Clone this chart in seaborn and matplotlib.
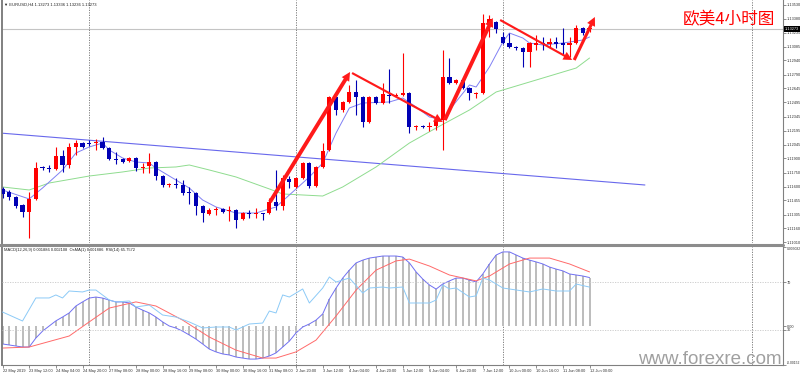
import matplotlib
matplotlib.use("Agg")
import matplotlib.pyplot as plt
import matplotlib.transforms as mtransforms
from matplotlib.lines import Line2D
import numpy as np
import pandas as pd
import seaborn as sns

# EURUSD H4 candles (22 May 20:00 .. 12 Jun 00:00)
opens = [1.11577, 1.11545, 1.11492, 1.11407, 1.11333, 1.11471, 1.11810, 1.11799, 1.11789, 1.11926,
         1.11831, 1.12022, 1.12064, 1.12064, 1.12064, 1.12075, 1.12011, 1.11895, 1.11895, 1.11873,
         1.11905, 1.11799, 1.11820, 1.11863, 1.11714, 1.11619, 1.11630, 1.11619, 1.11545, 1.11534,
         1.11396, 1.11312, 1.11354, 1.11365, 1.11343, 1.11354, 1.11259, 1.11322, 1.11312, 1.11322,
         1.11322, 1.11439, 1.11396, 1.11683, 1.11598, 1.11693, 1.11852, 1.11608, 1.11810, 1.11990,
         1.12552, 1.12414, 1.12499, 1.12605, 1.12552, 1.12287, 1.12552, 1.12488, 1.12573, 1.12562,
         1.12573, 1.12594, 1.12234, 1.12244, 1.12234, 1.12244, 1.12308, 1.12764, 1.12700, 1.12732,
         1.12647, 1.12584, 1.12594, 1.13336, 1.13347, 1.13188, 1.13124, 1.13082, 1.13071, 1.13029,
         1.13103, 1.13124, 1.13114, 1.13135, 1.13124, 1.13103, 1.13124, 1.13283, 1.13273]
highs = [1.11598, 1.11566, 1.11502, 1.11418, 1.11545, 1.11863, 1.11820, 1.11831, 1.12022, 1.11990,
         1.12064, 1.12096, 1.12075, 1.12096, 1.12107, 1.12128, 1.12022, 1.11969, 1.11905, 1.11916,
         1.11916, 1.11852, 1.11958, 1.11873, 1.11725, 1.11640, 1.11693, 1.11672, 1.11598, 1.11545,
         1.11407, 1.11375, 1.11386, 1.11375, 1.11396, 1.11365, 1.11333, 1.11354, 1.11375, 1.11322,
         1.11481, 1.11778, 1.11725, 1.11714, 1.11704, 1.11863, 1.11863, 1.11820, 1.12064, 1.12562,
         1.12562, 1.12509, 1.12679, 1.12732, 1.12562, 1.12562, 1.12562, 1.12700, 1.12849, 1.12594,
         1.13018, 1.12605, 1.12255, 1.12255, 1.12287, 1.12308, 1.13050, 1.12965, 1.12743, 1.12743,
         1.12658, 1.12605, 1.13432, 1.13421, 1.13357, 1.13241, 1.13230, 1.13092, 1.13082, 1.13135,
         1.13209, 1.13188, 1.13177, 1.13188, 1.13283, 1.13188, 1.13315, 1.13294, 1.13336]
lows = [1.11481, 1.11460, 1.11375, 1.11280, 1.11057, 1.11460, 1.11778, 1.11757, 1.11778, 1.11757,
        1.11799, 1.11937, 1.12011, 1.12032, 1.11990, 1.12001, 1.11884, 1.11842, 1.11852, 1.11863,
        1.11767, 1.11746, 1.11746, 1.11672, 1.11598, 1.11598, 1.11587, 1.11513, 1.11418, 1.11301,
        1.11227, 1.11301, 1.11301, 1.11322, 1.11237, 1.11163, 1.11248, 1.11269, 1.11269, 1.11248,
        1.11312, 1.11354, 1.11354, 1.11587, 1.11587, 1.11683, 1.11587, 1.11598, 1.11799, 1.11979,
        1.12361, 1.12393, 1.12488, 1.12361, 1.12234, 1.12276, 1.12478, 1.12478, 1.12488, 1.12552,
        1.12562, 1.12170, 1.12202, 1.12223, 1.12191, 1.12202, 1.11990, 1.12690, 1.12690, 1.12637,
        1.12520, 1.12541, 1.12584, 1.13188, 1.13230, 1.13114, 1.13071, 1.13050, 1.12870, 1.12870,
        1.13050, 1.13050, 1.13071, 1.13071, 1.12997, 1.12976, 1.13114, 1.13209, 1.13236]
closes = [1.11524, 1.11492, 1.11396, 1.11333, 1.11471, 1.11799, 1.11799, 1.11789, 1.11926, 1.11831,
          1.12022, 1.12064, 1.12022, 1.12054, 1.12075, 1.12011, 1.11895, 1.11884, 1.11863, 1.11905,
          1.11799, 1.11810, 1.11863, 1.11714, 1.11619, 1.11630, 1.11619, 1.11534, 1.11534, 1.11396,
          1.11322, 1.11354, 1.11365, 1.11333, 1.11354, 1.11248, 1.11322, 1.11312, 1.11322, 1.11312,
          1.11439, 1.11396, 1.11693, 1.11651, 1.11693, 1.11852, 1.11608, 1.11810, 1.11979, 1.12552,
          1.12414, 1.12499, 1.12605, 1.12552, 1.12287, 1.12552, 1.12488, 1.12584, 1.12562, 1.12573,
          1.12594, 1.12234, 1.12244, 1.12234, 1.12244, 1.12297, 1.12764, 1.12700, 1.12732, 1.12647,
          1.12594, 1.12594, 1.13336, 1.13379, 1.13273, 1.13124, 1.13082, 1.13071, 1.13029, 1.13124,
          1.13124, 1.13114, 1.13135, 1.13114, 1.13103, 1.13124, 1.13283, 1.13230, 1.13273]

# fast MA (thin blue) and slow MA (green), read at some bars
fast_idx = [0, 4, 6, 9, 11, 13, 15, 16, 18, 20, 22, 23, 26, 28, 30, 32, 35, 38, 41, 43,
            46, 48, 50, 52, 54, 58, 60, 62, 64, 66, 67, 70, 71, 73, 75, 76, 78, 79, 81, 84, 87, 88]
fast_val = [1.11566, 1.11471, 1.11587, 1.11778, 1.11958, 1.12022, 1.12064, 1.11990, 1.11905, 1.11863,
            1.11852, 1.11799, 1.11672, 1.11587, 1.11460, 1.11386, 1.11322, 1.11322, 1.11386, 1.11513,
            1.11704, 1.11852, 1.12170, 1.12435, 1.12488, 1.12499, 1.12541, 1.12446, 1.12340, 1.12308,
            1.12414, 1.12679, 1.12658, 1.12870, 1.13135, 1.13230, 1.13177, 1.13124, 1.13103, 1.13124,
            1.13156, 1.13188]
slow_idx = [0, 4, 7, 13, 18, 22, 26, 28, 31, 35, 40, 42, 45, 48, 51, 56, 61, 65, 70, 74, 76, 81, 86, 88]
slow_val = [1.11598, 1.11566, 1.11640, 1.11714, 1.11757, 1.11799, 1.11810, 1.11831, 1.11778, 1.11704,
            1.11577, 1.11524, 1.11513, 1.11502, 1.11598, 1.11810, 1.12064, 1.12223, 1.12414, 1.12605,
            1.12647, 1.12753, 1.12859, 1.12965]

# blue trend line end points (bar index, price)
trend_x = [-0.4, 96.3]
trend_y = [1.12170, 1.11619]

# red hand-drawn arrows: (start bar, start price, end bar, end price, thickness)
arrows = [(40.1, 1.11439, 52.1, 1.12817, 0.40),
          (52.4, 1.12806, 66.0, 1.12287, 0.22),
          (66.3, 1.12308, 73.5, 1.13389, 0.40),
          (74.6, 1.13368, 85.4, 1.12944, 0.22),
          (85.7, 1.12944, 88.8, 1.13400, 0.32)]

# MACD(12,26,9) main line per bar, signal line, RSI(14)
macd = [-0.00070, -0.00074, -0.00078, -0.00082, -0.00082, -0.00047, -0.00020, 0.00000, 0.00020, 0.00035,
        0.00051, 0.00078, 0.00094, 0.00109, 0.00113, 0.00109, 0.00101, 0.00094, 0.00094, 0.00090,
        0.00074, 0.00062, 0.00051, 0.00035, 0.00016, 0.00000, -0.00008, -0.00020, -0.00035, -0.00051,
        -0.00070, -0.00090, -0.00101, -0.00109, -0.00113, -0.00121, -0.00125, -0.00129, -0.00129, -0.00125,
        -0.00117, -0.00105, -0.00082, -0.00059, -0.00027, -0.00004, 0.00008, 0.00023, 0.00047, 0.00105,
        0.00148, 0.00187, 0.00218, 0.00246, 0.00257, 0.00265, 0.00269, 0.00273, 0.00273, 0.00273,
        0.00269, 0.00246, 0.00211, 0.00183, 0.00160, 0.00144, 0.00164, 0.00176, 0.00187, 0.00187,
        0.00179, 0.00172, 0.00203, 0.00242, 0.00277, 0.00289, 0.00289, 0.00277, 0.00265, 0.00257,
        0.00250, 0.00242, 0.00230, 0.00222, 0.00215, 0.00203, 0.00199, 0.00195, 0.00189]
sig_idx = [0, 4, 10, 13, 16, 20, 23, 27, 31, 35, 39, 41, 44, 47, 50, 53, 56, 59, 61, 64,
           67, 71, 73, 76, 79, 82, 85, 88]
sig_val = [-0.00086, -0.00082, -0.00039, 0.00016, 0.00070, 0.00094, 0.00078, 0.00023, -0.00043, -0.00094,
           -0.00125, -0.00125, -0.00101, -0.00055, 0.00039, 0.00140, 0.00218, 0.00254, 0.00261, 0.00234,
           0.00199, 0.00176, 0.00195, 0.00242, 0.00265, 0.00265, 0.00242, 0.00211]
rsi_idx = [0, 3, 5, 7, 8, 9, 10, 12, 13, 14, 16, 17, 19, 20, 22, 24, 26, 28, 30, 32,
           34, 35, 37, 39, 40, 41, 42, 43, 44, 45, 46, 48, 49, 50, 52, 54, 55, 57, 58, 60,
           61, 64, 65, 66, 67, 68, 70, 71, 72, 73, 75, 79, 81, 83, 85, 86, 88]
rsi_val = [45.0, 37.5, 56.7, 56.7, 59.2, 56.7, 62.5, 61.7, 63.3, 63.3, 55.0, 53.3, 54.2, 49.2, 50.8,
           42.5, 40.8, 36.7, 31.7, 32.5, 32.5, 30.0, 35.0, 35.8, 45.8, 44.2, 59.2, 57.5, 60.8, 64.2,
           52.5, 65.0, 74.2, 70.0, 73.3, 60.8, 65.0, 65.8, 65.0, 65.8, 52.5, 52.5, 55.0, 67.5, 64.2,
           65.0, 57.5, 58.5, 73.3, 71.7, 65.0, 61.7, 64.2, 62.5, 62.5, 68.3, 65.76]

# axis labels
time_idx = list(range(0, 89, 4))
time_labels = ["22 May 2019", "23 May 12:00", "24 May 04:00", "24 May 20:00", "27 May 08:00",
               "28 May 00:00", "28 May 16:00", "29 May 08:00", "30 May 00:00", "30 May 16:00",
               "31 May 08:00", "2 Jun 20:00", "3 Jun 12:00", "4 Jun 04:00", "4 Jun 20:00",
               "5 Jun 12:00", "6 Jun 04:00", "6 Jun 20:00", "7 Jun 12:00", "10 Jun 00:00",
               "10 Jun 16:00", "11 Jun 08:00", "12 Jun 00:00"]
price_ticks = [1.13530, 1.13380, 1.13235, 1.13085, 1.12940, 1.12790, 1.12645, 1.12495, 1.12345,
               1.12195, 1.12045, 1.11900, 1.11750, 1.11600, 1.11455, 1.11305, 1.11160, 1.11010]
week_sep = [13, 44, 75, 112.4]

sns.set_theme(style="white")
plt.rcParams['font.family'] = ['Liberation Sans', 'DejaVu Sans']

W, H = 800, 376
fig = plt.figure(figsize=(8, 3.76), dpi=100)
fig.patch.set_facecolor("white")


def frac(x0, y0, x1, y1):
    return [x0 / W, 1 - y1 / H, (x1 - x0) / W, (y1 - y0) / H]


ax = fig.add_axes(frac(2, 0, 783, 243))
axi = fig.add_axes(frac(2, 247, 783, 365), sharex=ax)
ax.set_xlim(-0.075, 117.0)
ax.set_ylim(1.11004, 1.13580)

df = pd.DataFrame(dict(o=opens, h=highs, l=lows, c=closes))
df["i"] = np.arange(len(df))
col = np.where(df.c >= df.o, "#ff0000", "#0000b4")

# price panel
ax.axhline(closes[-1], color="#c4c4c4", lw=0.8, zorder=0)
for a in (ax, axi):
    for v in week_sep:
        a.axvline(v, color="#6e6e6e", lw=0.6, ls=(0, (1.5, 1.5)), zorder=0)

ax.plot(trend_x, trend_y, color="#6868ec", lw=0.8)
sns.lineplot(x=slow_idx, y=slow_val, ax=ax, color="#8fdc8f", lw=0.7)
sns.lineplot(x=fast_idx, y=fast_val, ax=ax, color="#8080f4", lw=0.7)

ax.vlines(df.i, df.l, df.h, colors=col, lw=0.8, zorder=3)
body = (df.c - df.o).abs().clip(lower=0.00007)
ax.bar(df.i, body, bottom=np.minimum(df.o, df.c), width=0.62, color=col, linewidth=0, zorder=4)

for x0, y0, x1, y1, tw in arrows:
    ax.annotate("", xy=(x1, y1), xytext=(x0, y0), zorder=6,
                arrowprops=dict(arrowstyle=f"simple,head_length=0.9,head_width=0.9,tail_width={tw}",
                                color="#ff1a1a", shrinkA=0, shrinkB=0, mutation_scale=7, lw=0))

ax.yaxis.tick_right()
ax.set_yticks(price_ticks)
ax.set_yticklabels([f"{p:.5f}" for p in price_ticks])
ax.tick_params(axis="y", length=2, width=0.5, color="#606060", labelsize=2.8,
               pad=1, labelcolor="#303030", right=True)
ax.tick_params(axis="x", bottom=False, labelbottom=False)
ax.set_xlabel("")
ax.set_ylabel("")
blend = mtransforms.blended_transform_factory(ax.transAxes, ax.transData)
ax.text(1.002, closes[-1], "1.13273", transform=blend, fontsize=2.8, color="white",
        va="center", ha="left", bbox=dict(facecolor="black", edgecolor="none", pad=0.7))

# indicator panel: MACD histogram + lines, RSI on its own scale
axi.set_ylim(-0.001521, 0.003081)
axi.bar(df.i, macd, width=0.3, color="#bdbdbd", linewidth=0)
sns.lineplot(x=df.i, y=macd, ax=axi, color="#6f6ff2", lw=0.7)
sns.lineplot(x=sig_idx, y=sig_val, ax=axi, color="#ff6a6a", lw=0.7)
axr = axi.twinx()
axr.set_ylim(0.83, 99.17)
axr.axhline(70, color="#c8c8c8", lw=0.6, ls=(0, (1.5, 1.5)))
axr.axhline(30, color="#c8c8c8", lw=0.6, ls=(0, (1.5, 1.5)))
sns.lineplot(x=rsi_idx, y=rsi_val, ax=axr, color="#8ccaf7", lw=0.7)

axi.yaxis.tick_right()
axi.set_yticks([0.003082, 0.0, -0.00152])
axi.set_yticklabels(["0.003082", "0.00", "-0.00152"])
axr.set_yticks([70, 30])
axr.set_yticklabels(["70", "30"])
for a in (axi, axr):
    a.tick_params(axis="y", length=2, width=0.5, color="#606060", labelsize=2.8,
                  pad=1, labelcolor="#303030", right=True, left=False)
    a.set_ylabel("")
# keep the end labels of the MACD scale inside the picture
mlabels = axi.get_yticklabels()
for lbl in (mlabels[0], mlabels[2]):
    lbl.set_fontsize(2.4)
mlabels[0].set_va("top")
mlabels[2].set_va("bottom")
axi.tick_params(axis="y", pad=0.6)

axi.set_xticks(time_idx)
axi.set_xticklabels(time_labels, ha="left")
axi.tick_params(axis="x", length=2, width=0.5, color="#606060", labelsize=2.8,
                pad=1, labelcolor="#303030", bottom=True)
axi.set_xlabel("")
ax.set_xlim(-0.075, 117.0)

for a in (ax, axi, axr):
    a.set_facecolor("none")
    for s in a.spines.values():
        s.set_visible(False)
for a in (ax, axi):
    a.spines["left"].set_visible(True)
    a.spines["left"].set_color("#808080")
    a.spines["left"].set_linewidth(1.4)
    a.spines["right"].set_visible(True)
    a.spines["right"].set_color("#808080")
    a.spines["right"].set_linewidth(0.8)
axi.spines["bottom"].set_visible(True)
axi.spines["bottom"].set_color("#808080")
axi.spines["bottom"].set_linewidth(0.8)

# thick separator between the panels
fig.add_artist(Line2D([0, 783 / W], [1 - 245 / H, 1 - 245 / H], transform=fig.transFigure,
                      color="#8c8c8c", lw=2.2))

fig.text(4 / W, 1 - 5 / H, "▼ EURUSD,H4 1.13273 1.13336 1.13236 1.13273", fontsize=3,
         va="center", color="#202020")
fig.text(4 / W, 1 - 250 / H, "MACD(12,26,9) 0.001886 0.002108  OsMA(1) 0.001886  RSI(14) 65.7572",
         fontsize=2.9, va="center", color="#202020")
fig.text(775 / W, 1 - 20 / H, "欧美4小时图", color="#ff0000", fontsize=12, ha="right", va="center",
         family=["Noto Sans CJK SC", "DejaVu Sans"])
fig.text(782 / W, 1 - 359 / H, "www.forexre.com", color="#a0a0a0", fontsize=13.5,
         ha="right", va="center")

fig.savefig("out.png", dpi=100, facecolor="white")
